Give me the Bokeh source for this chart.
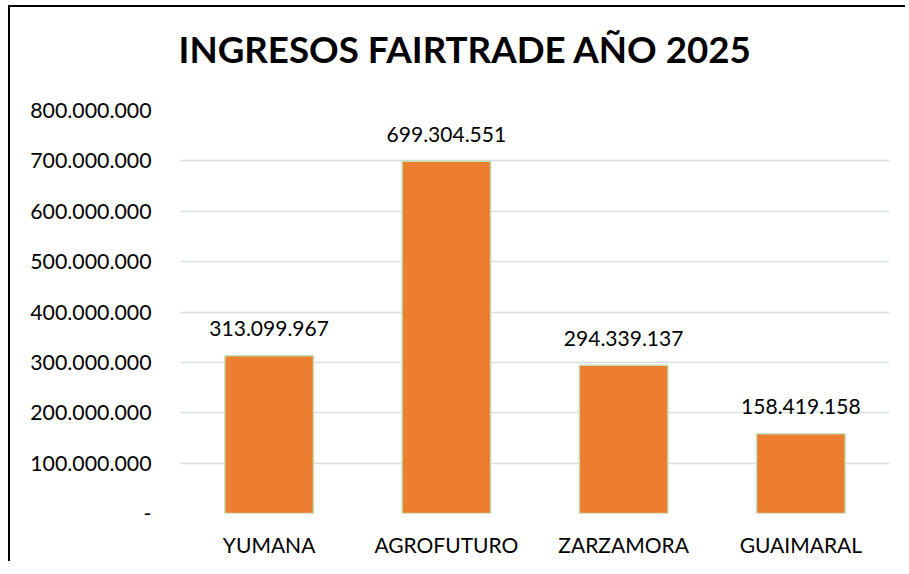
from bokeh.plotting import figure
from bokeh.models import FactorRange, Range1d, FixedTicker, ColumnDataSource, Title
from bokeh.core.properties import value
from bokeh.embed import file_html
from bokeh.resources import INLINE

title_text = "INGRESOS FAIRTRADE AÑO 2025"
categories = ["YUMANA", "AGROFUTURO", "ZARZAMORA", "GUAIMARAL"]
ingresos = [313099967, 699304551, 294339137, 158419158]
y_ticks = [0, 100000000, 200000000, 300000000, 400000000, 500000000, 600000000, 700000000, 800000000]
y_tick_labels = ["-", "100.000.000", "200.000.000", "300.000.000", "400.000.000",
                 "500.000.000", "600.000.000", "700.000.000", "800.000.000"]

bar_labels = [f"{v:,}".replace(",", ".") for v in ingresos]
src = ColumnDataSource(dict(cat=categories, val=ingresos, lab=bar_labels))

FONT = "Lato"

p = figure(x_range=FactorRange(*categories), y_range=Range1d(0, 800000000),
           width=897, height=556, output_backend="svg", toolbar_location=None,
           min_border_left=170, min_border_right=18, min_border_top=103, min_border_bottom=50)
p.styles = {"margin-left": "8px", "margin-top": "5px",
            "border-left": "2px solid #000000", "border-top": "2px solid #000000"}
p.outline_line_color = None
p.background_fill_color = "white"
p.border_fill_color = "white"

# real title (outer), spacer title between it and the frame
p.title.text = title_text
p.title.align = "left"
p.title.offset = -2
p.title.standoff = 10
p.title.text_font = FONT
p.title.text_font_style = "bold"
p.title.text_font_size = "36.7px"
p.title.text_color = "#000000"

p.add_layout(Title(text=" ", text_font_size="2px", standoff=31), "above")

p.vbar(x="cat", top="val", width=0.5, source=src, fill_color="#ED7D31",
       line_color="#C5E0B4", line_width=1.5)

p.text(x="cat", y="val", text="lab", source=src, text_align="center",
       text_baseline="alphabetic", y_offset=-27, text_font=value(FONT),
       text_font_size="21px", text_color="#000000")

p.xgrid.grid_line_color = None
p.ygrid.grid_line_color = "#DADEE3"
p.ygrid.grid_line_width = 1.5
p.yaxis.ticker = FixedTicker(ticks=y_ticks)
p.yaxis.major_label_overrides = {t: l for t, l in zip(y_ticks, y_tick_labels)}
for ax in (p.xaxis, p.yaxis):
    ax.axis_line_color = None
    ax.major_tick_line_color = None
    ax.minor_tick_line_color = None
    ax.major_label_text_font = FONT
    ax.major_label_text_color = "#000000"
p.yaxis.major_label_text_font_size = "21.3px"
p.yaxis.major_label_standoff = 23
p.xaxis.major_label_text_font_size = "21px"
p.xaxis.major_label_standoff = 12

open("out.html", "w").write(file_html(p, INLINE))
